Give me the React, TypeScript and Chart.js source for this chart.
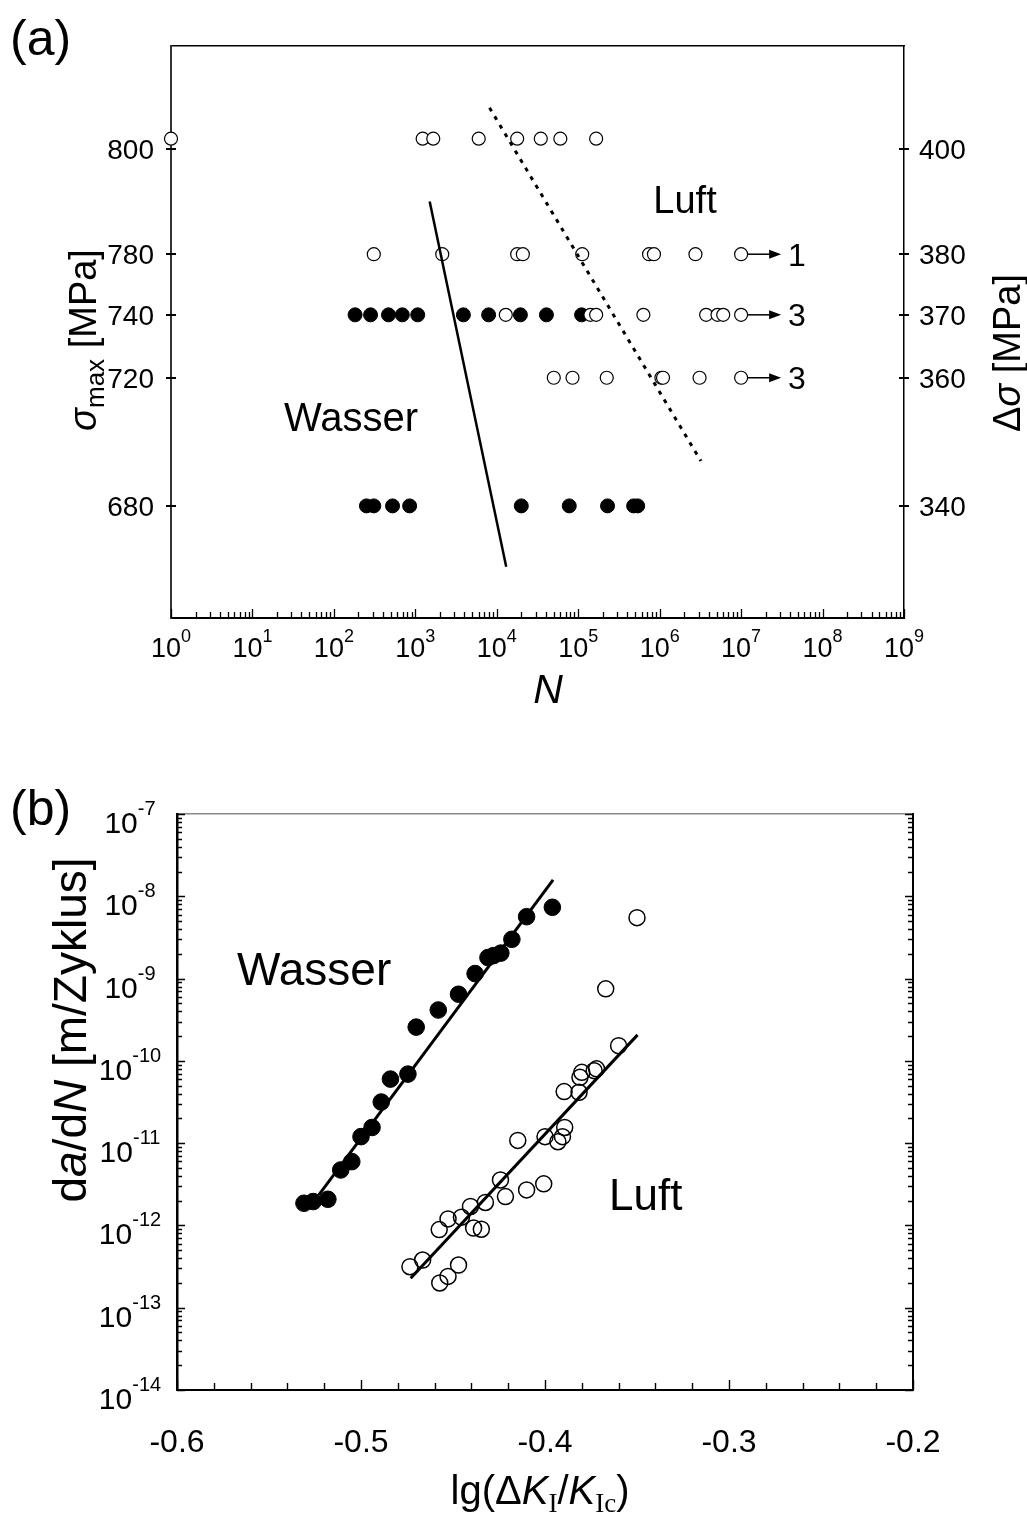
import React, { useEffect, useRef } from "react";
import { Chart, registerables, LinearScale } from "chart.js";

Chart.register(...registerables);

const SANS = "'Liberation Sans', Arial, Helvetica, sans-serif";
const SERIF = "'Liberation Serif', 'Times New Roman', serif";

// ---------------- Panel (a): S–N data ----------------
const nTickExponents = [0, 1, 2, 3, 4, 5, 6, 7, 8, 9];
const sigmaMaxTicks = [680, 720, 740, 780, 800];
const deltaSigmaTickLabels = ["340", "360", "370", "380", "400"];

const luftSigmaTop = 802;
const luftNTop = [1, 1230, 1660, 6000, 17800, 34700, 60300, 166000];
const luftN780 = [309, 2140, 17800, 20900, 112000, 741000, 851000, 2750000, 10000000];
const luftN740 = [12900, 141000, 166000, 631000, 3720000, 5130000, 6030000, 10000000];
const luftN720 = [50100, 85100, 224000, 1050000, 1100000, 3090000, 10000000];
const wasserN740 = [182, 282, 468, 692, 1070, 3890, 7940, 19500, 40700, 110000];
const wasserN680 = [251, 309, 525, 851, 20000, 77600, 229000, 479000, 537000];

const runoutSigma = [780, 740, 720];
const runoutLabels = ["1", "3", "3"];
const runoutN = 10000000;

const wasserFitN = [1500, 13060];
const wasserFitSigma = [790, 661];
const luftFitN = [8150, 3210000];
const luftFitSigma = [808, 694];

// the σmax axis of the original is not linear: value -> fraction of plot height (from bottom)
const sigmaAxisStops: [number, number][] = [
  [645, 0],
  [680, 0.196],
  [720, 0.42],
  [740, 0.53],
  [780, 0.636],
  [800, 0.82],
  [820, 1],
];

// ---------------- Panel (b): crack growth data ----------------
const dKTicks = [-0.6, -0.5, -0.4, -0.3, -0.2];
const rateExponents = [-14, -13, -12, -11, -10, -9, -8, -7];

const wasserDK = [-0.531, -0.526, -0.518, -0.511, -0.505, -0.5, -0.494, -0.489, -0.484, -0.4745, -0.47, -0.458, -0.447, -0.438, -0.431, -0.428, -0.424, -0.418, -0.41, -0.396];
const wasserRate = [1.86e-12, 1.95e-12, 2.08e-12, 4.72e-12, 5.96e-12, 1.2e-11, 1.55e-11, 3.16e-11, 6.0e-11, 6.9e-11, 2.57e-10, 4.15e-10, 6.45e-10, 1.15e-9, 1.8e-9, 1.9e-9, 2.04e-9, 3.0e-9, 5.65e-9, 7.35e-9];

const luftDK = [-0.35, -0.367, -0.36, -0.372, -0.3733, -0.38, -0.381, -0.3896, -0.3815, -0.3893, -0.3905, -0.393, -0.4, -0.4148, -0.4242, -0.4215, -0.41, -0.4007, -0.4324, -0.4405, -0.4454, -0.4527, -0.4575, -0.4388, -0.4346, -0.4665, -0.4734, -0.447, -0.4527, -0.4572];
const luftRate = [5.5e-9, 7.5e-10, 1.53e-10, 8.0e-11, 7.6e-11, 7.25e-11, 6.3e-11, 4.23e-11, 4.15e-11, 1.55e-11, 1.2e-11, 1.04e-11, 1.2e-11, 1.08e-11, 3.57e-12, 2.24e-12, 2.7e-12, 3.2e-12, 1.9e-12, 1.7e-12, 1.26e-12, 1.2e-12, 8.9e-13, 9.3e-13, 9.0e-13, 3.8e-13, 3.15e-13, 3.3e-13, 2.4e-13, 2.0e-13];

const wasserFitDK = [-0.523, -0.3956];
const wasserFitRate = [2.34e-12, 1.58e-8];
const luftFitDK = [-0.473, -0.3497];
const luftFitRate = [2.28e-13, 2.07e-10];

// ---------------- custom non-linear scale ----------------
function sigmaToDecimal(v: number): number {
  const s = sigmaAxisStops;
  let i = 0;
  while (i < s.length - 2 && v > s[i + 1][0]) i++;
  const [v0, d0] = s[i];
  const [v1, d1] = s[i + 1];
  return d0 + ((v - v0) / (v1 - v0)) * (d1 - d0);
}
function decimalToSigma(d: number): number {
  const s = sigmaAxisStops;
  let i = 0;
  while (i < s.length - 2 && d > s[i + 1][1]) i++;
  const [v0, d0] = s[i];
  const [v1, d1] = s[i + 1];
  return v0 + ((d - d0) / (d1 - d0)) * (v1 - v0);
}

class SigmaStopScale extends (LinearScale as any) {
  static id = "sigmaStops";
  static defaults = (LinearScale as any).defaults;
  getPixelForValue(value: number) {
    return (this as any).getPixelForDecimal(sigmaToDecimal(value));
  }
  getValueForPixel(pixel: number) {
    return decimalToSigma((this as any).getDecimalForPixel(pixel));
  }
}
Chart.register(SigmaStopScale as any);

// ---------------- drawing helpers ----------------
type Seg = { t: string; f: string; dy?: number };

function drawRich(ctx: CanvasRenderingContext2D, segs: Seg[], ax: number, ay: number, rotated: boolean) {
  ctx.save();
  ctx.translate(ax, ay);
  if (rotated) ctx.rotate(-Math.PI / 2);
  ctx.textAlign = "left";
  ctx.textBaseline = "alphabetic";
  let total = 0;
  for (const s of segs) {
    ctx.font = s.f;
    total += ctx.measureText(s.t).width;
  }
  let x = -total / 2;
  for (const s of segs) {
    ctx.font = s.f;
    ctx.fillText(s.t, x, s.dy || 0);
    x += ctx.measureText(s.t).width;
  }
  ctx.restore();
}

function drawPow(ctx: CanvasRenderingContext2D, cx: number, baseY: number, base: string, exp: string, baseFont: string, supFont: string, rise: number) {
  ctx.save();
  ctx.textAlign = "left";
  ctx.textBaseline = "alphabetic";
  ctx.font = baseFont;
  const wb = ctx.measureText(base).width;
  ctx.font = supFont;
  const we = ctx.measureText(exp).width;
  const x0 = cx - (wb + we) / 2;
  ctx.font = baseFont;
  ctx.fillText(base, x0, baseY);
  ctx.font = supFont;
  ctx.fillText(exp, x0 + wb, baseY - rise);
  ctx.restore();
}

function fixedSize(size: number, horizontal: boolean) {
  return (s: any) => {
    if (horizontal) s.height = size;
    else s.width = size;
  };
}

// ---------------- panel (a) ----------------
const decorA = {
  id: "decorA",
  afterDraw(chart: any) {
    const ctx: CanvasRenderingContext2D = chart.ctx;
    const ca = chart.chartArea;
    const xs = chart.scales.x;
    const ys = chart.scales.y;
    ctx.save();
    ctx.strokeStyle = "#000";
    ctx.fillStyle = "#000";

    ctx.lineWidth = 1.3;
    ctx.beginPath();
    nTickExponents.forEach((e, k) => {
      const px = Math.round(xs.getPixelForValue(10 ** e)) + 0.5;
      ctx.moveTo(px, ca.bottom);
      ctx.lineTo(px, ca.bottom - 9);
      if (k < nTickExponents.length - 1) {
        for (let m = 2; m <= 9; m++) {
          const q = Math.round(xs.getPixelForValue(m * 10 ** e)) + 0.5;
          ctx.moveTo(q, ca.bottom);
          ctx.lineTo(q, ca.bottom - 6);
        }
      }
    });
    ctx.stroke();

    ctx.lineWidth = 2;
    ctx.beginPath();
    sigmaMaxTicks.forEach((v) => {
      const py = Math.round(ys.getPixelForValue(v));
      ctx.moveTo(ca.left - 5, py);
      ctx.lineTo(ca.left + 5, py);
      ctx.moveTo(ca.right - 5, py);
      ctx.lineTo(ca.right + 5, py);
    });
    ctx.stroke();

    // tick labels
    ctx.font = `28px ${SANS}`;
    ctx.textBaseline = "alphabetic";
    sigmaMaxTicks.forEach((v, i) => {
      const py = ys.getPixelForValue(v);
      ctx.textAlign = "right";
      ctx.fillText(String(v), ca.left - 17, py + 10);
      ctx.textAlign = "left";
      ctx.fillText(deltaSigmaTickLabels[i], ca.right + 15, py + 10);
    });
    nTickExponents.forEach((e) => {
      const px = xs.getPixelForValue(10 ** e);
      drawPow(ctx, px, 657, "10", String(e), `27px ${SANS}`, `18px ${SANS}`, 15);
    });

    // run-out arrows
    runoutSigma.forEach((s, i) => {
      const px = xs.getPixelForValue(runoutN);
      const py = ys.getPixelForValue(s);
      ctx.lineWidth = 1.5;
      ctx.beginPath();
      ctx.moveTo(px + 6.5, py);
      ctx.lineTo(px + 30, py);
      ctx.stroke();
      ctx.beginPath();
      ctx.moveTo(px + 40, py);
      ctx.lineTo(px + 28, py - 4.5);
      ctx.lineTo(px + 28, py + 4.5);
      ctx.closePath();
      ctx.fill();
      ctx.font = `32px ${SANS}`;
      ctx.textAlign = "left";
      ctx.fillText(runoutLabels[i], px + 47, py + 11.5);
    });

    // annotations
    ctx.font = `38px ${SANS}`;
    ctx.textAlign = "center";
    ctx.fillText("Luft", 685, 213);
    ctx.font = `40px ${SANS}`;
    ctx.fillText("Wasser", 351, 431);
    ctx.font = `50px ${SANS}`;
    ctx.textAlign = "left";
    ctx.fillText("(a)", 10, 55);

    // axis titles
    drawRich(ctx, [{ t: "N", f: `italic 41px ${SANS}` }], 548, 703, false);
    drawRich(
      ctx,
      [
        { t: "σ", f: `italic 38px ${SANS}` },
        { t: "max", f: `26px ${SANS}`, dy: 8 },
        { t: " [MPa]", f: `38px ${SANS}` },
      ],
      96,
      340,
      true
    );
    drawRich(
      ctx,
      [
        { t: "Δ", f: `38px ${SANS}` },
        { t: "σ", f: `italic 38px ${SANS}` },
        { t: " [MPa]", f: `38px ${SANS}` },
      ],
      1020,
      353,
      true
    );
    ctx.restore();
  },
};

function configA(): any {
  const luftPts = [
    ...luftNTop.map((n) => ({ x: n, y: luftSigmaTop })),
    ...luftN780.map((n) => ({ x: n, y: 780 })),
    ...luftN740.map((n) => ({ x: n, y: 740 })),
    ...luftN720.map((n) => ({ x: n, y: 720 })),
  ];
  const wasserPts = [
    ...wasserN740.map((n) => ({ x: n, y: 740 })),
    ...wasserN680.map((n) => ({ x: n, y: 680 })),
  ];
  const hidden = { display: false };
  return {
    type: "scatter",
    data: {
      datasets: [
        {
          data: wasserFitN.map((n, i) => ({ x: n, y: wasserFitSigma[i] })),
          showLine: true,
          borderColor: "#000",
          borderWidth: 2.5,
          pointRadius: 0,
        },
        {
          data: luftFitN.map((n, i) => ({ x: n, y: luftFitSigma[i] })),
          showLine: true,
          borderColor: "#000",
          borderWidth: 3,
          borderDash: [4, 6],
          pointRadius: 0,
        },
        {
          data: luftPts,
          pointStyle: "circle",
          pointRadius: 6.5,
          pointBackgroundColor: "#fff",
          pointBorderColor: "#000",
          pointBorderWidth: 1.2,
          clip: false,
        },
        {
          data: wasserPts,
          pointStyle: "circle",
          pointRadius: 7,
          pointBackgroundColor: "#000",
          pointBorderColor: "#000",
          pointBorderWidth: 1,
          clip: false,
        },
      ],
    },
    options: {
      responsive: false,
      animation: false,
      layout: { padding: 0 },
      plugins: { legend: hidden, tooltip: { enabled: false } },
      scales: {
        x: {
          type: "logarithmic",
          position: "bottom",
          min: 1,
          max: 1e9,
          ticks: hidden,
          grid: { display: false, drawTicks: false },
          border: { display: true, color: "#000", width: 2 },
          afterFit: fixedSize(122, true),
        },
        xTop: {
          type: "linear",
          position: "top",
          min: 0,
          max: 1,
          ticks: hidden,
          grid: { display: false, drawTicks: false },
          border: { display: true, color: "#000", width: 1.5 },
          afterFit: fixedSize(46, true),
        },
        y: {
          type: "sigmaStops",
          position: "left",
          min: 645,
          max: 820,
          bounds: "data",
          afterBuildTicks: (s: any) => {
            s.ticks = sigmaMaxTicks.map((v) => ({ value: v }));
          },
          ticks: hidden,
          grid: { display: false, drawTicks: false },
          border: { display: true, color: "#333", width: 2 },
          afterFit: fixedSize(171, false),
        },
        y2: {
          type: "sigmaStops",
          position: "right",
          min: 645,
          max: 820,
          bounds: "data",
          ticks: hidden,
          grid: { display: false, drawTicks: false },
          border: { display: true, color: "#000", width: 1.5 },
          afterFit: fixedSize(123, false),
        },
      },
    },
    plugins: [decorA],
  };
}

// ---------------- panel (b) ----------------
const decorB = {
  id: "decorB",
  afterDraw(chart: any) {
    const ctx: CanvasRenderingContext2D = chart.ctx;
    const ca = chart.chartArea;
    const xs = chart.scales.x;
    const ys = chart.scales.y;
    ctx.save();
    ctx.strokeStyle = "#000";
    ctx.fillStyle = "#000";
    ctx.lineWidth = 1.4;
    ctx.beginPath();
    rateExponents.forEach((e, k) => {
      const py = Math.round(ys.getPixelForValue(10 ** e)) + 0.5;
      ctx.moveTo(ca.left, py);
      ctx.lineTo(ca.left + 8, py);
      ctx.moveTo(ca.right, py);
      ctx.lineTo(ca.right - 8, py);
      if (k < rateExponents.length - 1) {
        for (let m = 2; m <= 9; m++) {
          const q = Math.round(ys.getPixelForValue(m * 10 ** e)) + 0.5;
          ctx.moveTo(ca.left, q);
          ctx.lineTo(ca.left + 5, q);
          ctx.moveTo(ca.right, q);
          ctx.lineTo(ca.right - 5, q);
        }
      }
    });
    for (let i = 0; i <= 20; i++) {
      const v = dKTicks[0] + i * 0.02;
      const px = Math.round(xs.getPixelForValue(v)) + 0.5;
      ctx.moveTo(px, ca.bottom);
      ctx.lineTo(px, ca.bottom - (i % 5 === 0 ? 10 : 7));
    }
    ctx.stroke();

    // tick labels
    rateExponents.forEach((e) => {
      const py = ys.getPixelForValue(10 ** e);
      drawPow(ctx, 130, py + 19, "10", String(e), `30px ${SANS}`, `20px ${SANS}`, 18);
    });
    ctx.font = `32px ${SANS}`;
    ctx.textAlign = "center";
    ctx.textBaseline = "alphabetic";
    dKTicks.forEach((v) => {
      ctx.fillText(v.toFixed(1), xs.getPixelForValue(v), 712);
    });

    // annotations
    ctx.font = `46px ${SANS}`;
    ctx.textAlign = "left";
    ctx.fillText("Wasser", 237, 245);
    ctx.font = `44px ${SANS}`;
    ctx.fillText("Luft", 609, 470);
    ctx.font = `50px ${SANS}`;
    ctx.fillText("(b)", 10, 85);

    // axis titles
    drawRich(
      ctx,
      [
        { t: "lg(Δ", f: `40px ${SANS}` },
        { t: "K", f: `italic 40px ${SANS}` },
        { t: "I", f: `27px ${SERIF}`, dy: 8 },
        { t: "/", f: `40px ${SANS}` },
        { t: "K", f: `italic 40px ${SANS}` },
        { t: "Ic", f: `27px ${SERIF}`, dy: 8 },
        { t: ")", f: `40px ${SANS}` },
      ],
      540,
      764,
      false
    );
    drawRich(
      ctx,
      [
        { t: "d", f: `46px ${SANS}` },
        { t: "a", f: `italic 46px ${SANS}` },
        { t: "/d", f: `46px ${SANS}` },
        { t: "N", f: `italic 46px ${SANS}` },
        { t: " [m/Zyklus]", f: `46px ${SANS}` },
      ],
      86,
      290,
      true
    );
    ctx.restore();
  },
};

function configB(): any {
  const hidden = { display: false };
  return {
    type: "scatter",
    data: {
      datasets: [
        {
          data: wasserFitDK.map((x, i) => ({ x, y: wasserFitRate[i] })),
          showLine: true,
          borderColor: "#000",
          borderWidth: 3,
          pointRadius: 0,
        },
        {
          data: luftFitDK.map((x, i) => ({ x, y: luftFitRate[i] })),
          showLine: true,
          borderColor: "#000",
          borderWidth: 3,
          pointRadius: 0,
        },
        {
          data: luftDK.map((x, i) => ({ x, y: luftRate[i] })),
          pointStyle: "circle",
          pointRadius: 8,
          pointBackgroundColor: "rgba(255,255,255,0)",
          pointBorderColor: "#000",
          pointBorderWidth: 1.5,
          clip: false,
        },
        {
          data: wasserDK.map((x, i) => ({ x, y: wasserRate[i] })),
          pointStyle: "circle",
          pointRadius: 8.3,
          pointBackgroundColor: "#000",
          pointBorderColor: "#000",
          pointBorderWidth: 1,
          clip: false,
        },
      ],
    },
    options: {
      responsive: false,
      animation: false,
      layout: { padding: 0 },
      plugins: { legend: hidden, tooltip: { enabled: false } },
      scales: {
        x: {
          type: "linear",
          position: "bottom",
          min: -0.6,
          max: -0.2,
          ticks: hidden,
          grid: { display: false, drawTicks: false },
          border: { display: true, color: "#000", width: 2 },
          afterFit: fixedSize(125, true),
        },
        xTop: {
          type: "linear",
          position: "top",
          min: 0,
          max: 1,
          ticks: hidden,
          grid: { display: false, drawTicks: false },
          border: { display: true, color: "#8a8a8a", width: 1.5 },
          afterFit: fixedSize(74, true),
        },
        y: {
          type: "logarithmic",
          position: "left",
          min: 1e-14,
          max: 1e-7,
          ticks: hidden,
          grid: { display: false, drawTicks: false },
          border: { display: true, color: "#000", width: 2.5 },
          afterFit: fixedSize(177, false),
        },
        y2: {
          type: "logarithmic",
          position: "right",
          min: 1e-14,
          max: 1e-7,
          ticks: hidden,
          grid: { display: false, drawTicks: false },
          border: { display: true, color: "#000", width: 2 },
          afterFit: fixedSize(114, false),
        },
      },
    },
    plugins: [decorB],
  };
}

function ChartCanvas({ make, top, height }: { make: () => any; top: number; height: number }) {
  const ref = useRef<HTMLCanvasElement | null>(null);
  useEffect(() => {
    if (!ref.current) return;
    const chart = new Chart(ref.current, make());
    return () => chart.destroy();
  }, []);
  return (
    <canvas
      ref={ref}
      width={1027}
      height={height}
      style={{ position: "absolute", left: 0, top, width: 1027, height, display: "block" }}
    />
  );
}

export default function App() {
  return (
    <div style={{ position: "absolute", left: 0, top: 0, width: 1027, height: 1515, background: "#fff" }}>
      <ChartCanvas make={configA} top={0} height={740} />
      <ChartCanvas make={configB} top={740} height={775} />
    </div>
  );
}
